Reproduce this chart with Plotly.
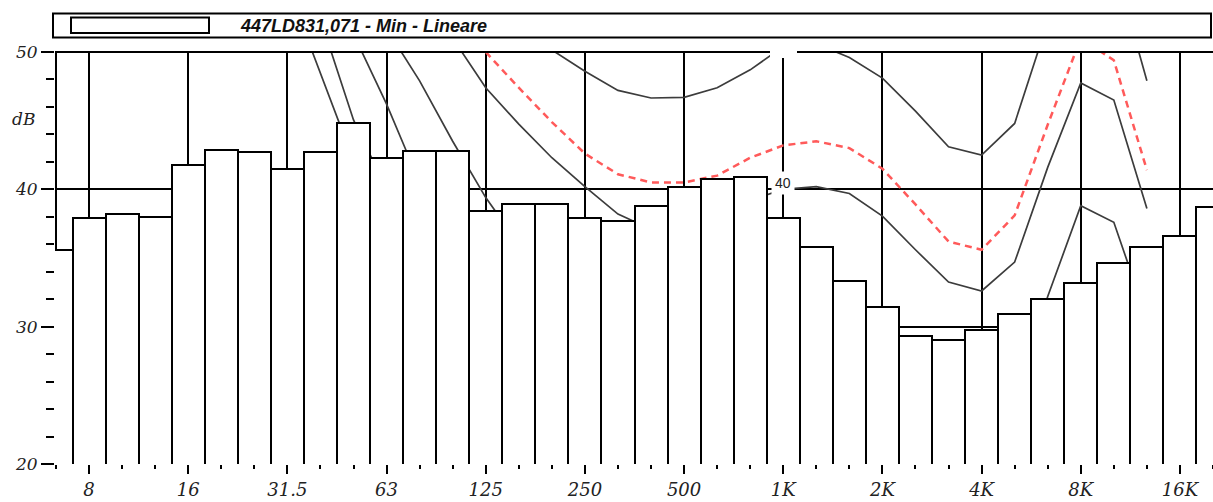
import plotly.graph_objects as go

# 1/3-octave band centres (Hz)
bands = ["6.3", "8", "10", "12.5", "16", "20", "25", "31.5", "40", "50", "63", "80",
         "100", "125", "160", "200", "250", "315", "400", "500", "630", "800", "1K",
         "1.25K", "1.6K", "2K", "2.5K", "3.15K", "4K", "5K", "6.3K", "8K", "10K",
         "12.5K", "16K", "20K"]

# measured spectrum (dB)
spectrum_db = [35.6, 37.9, 38.2, 38.0, 41.8, 42.9, 42.75, 41.5, 42.75, 44.85, 42.25, 42.8,
               42.8, 38.4, 38.9, 38.9, 37.9, 37.7, 38.8, 40.15, 40.75, 40.9, 37.9, 35.8,
               33.3, 31.4, 29.3, 29.0, 29.75, 30.9, 32.0, 33.15, 34.6, 35.8, 36.6, 38.7]

N = None
# reference curves (dB), None where not drawn
curve_1 = [N, N, N, N, N, N, N, 54.8, 48.5, 42.1, 38.5, N, N, N, N, N, N, N, N, N, N, N,
           N, N, N, N, N, N, N, N, N, N, N, N, N, N]
curve_2 = [N, N, N, N, N, N, N, 60.0, 52.4, 45.05, 40.0, N, N, N, N, N, N, N, N, N, N, N,
           N, N, N, N, N, N, N, N, N, N, N, N, N, N]
curve_3 = [N, N, N, N, N, N, N, N, 57.0, 51.3, 46.2, 40.5, 36.0, N, N, N, N, N, N, N, N, N,
           N, N, N, N, N, N, N, N, N, N, N, N, N, N]
curve_30 = [N, N, N, N, N, N, N, N, N, 58.0, 51.7, 47.9, 43.5, 39.4, 36.0, 33.8, 31.5, 29.8,
            28.5, 27.8, 27.8, 28.5, 30.0, 30.2, 29.7, 28.0, 25.6, 23.3, 22.6, 24.7, 32.2,
            38.8, 37.6, 30.6, N, N]
curve_40 = [N, N, N, N, N, N, N, N, N, N, N, 55.5, 51.0, 47.4, 44.75, 42.3, 40.2, 38.2, 37.1,
            37.4, 38.2, 39.2, 40.0, 40.2, 39.7, 38.05, 35.6, 33.25, 32.6, 34.7, 41.6, 47.75,
            46.5, 38.6, N, N]
curve_50 = [N, N, N, N, N, N, N, N, N, N, N, N, N, 57.0, 52.5, 50.15, 48.6, 47.2, 46.65, 46.7,
            47.4, 48.7, 50.4, 50.6, 49.6, 48.1, 45.7, 43.1, 42.5, 44.8, 52.2, 57.7, 56.5, 47.9,
            N, N]
curve_red = [N, N, N, N, N, N, N, N, N, N, N, N, N, 50.0, 47.4, 44.9, 42.6, 41.1, 40.5, 40.5,
             41.0, 42.3, 43.2, 43.5, 43.0, 41.5, 38.9, 36.2, 35.6, 38.1, 44.7, 51.0, 49.4,
             41.4, N, N]

tick_labels = ["8", "16", "31.5", "63", "125", "250", "500", "1K", "2K", "4K", "8K", "16K"]
legend_text = "447LD831,071 - Min - Lineare"
curve_label = "40"

x = list(range(len(bands)))
tick_pos = [bands.index(t) for t in tick_labels]

W, H = 1213, 502
ML, MR, MT, MB = 55, 0, 52, 38
PW, PH = W - ML - MR, H - MT - MB


def px(xp):
    return (xp - ML) / PW


def py(yp):
    return (H - MB - yp) / PH


fig = go.Figure()
for vals in [curve_1, curve_2, curve_3, curve_30, curve_40, curve_50]:
    fig.add_trace(go.Scatter(x=x, y=vals, mode="lines", connectgaps=False,
                             line=dict(color="#3c3c3c", width=1.7),
                             hoverinfo="skip", showlegend=False))
fig.add_trace(go.Scatter(x=x, y=curve_red, mode="lines", connectgaps=False,
                         line=dict(color="#ff5a5a", width=2.5, dash="7px,5px"),
                         hoverinfo="skip", showlegend=False))
fig.add_trace(go.Bar(x=x, y=spectrum_db, width=1.0, xaxis="x2", yaxis="y2",
                     marker=dict(color="white", line=dict(color="black", width=2)),
                     hoverinfo="skip", showlegend=False))

serif = "DejaVu Serif"
xr = [-0.03, 35.0]
yr = [20, 50]

fig.update_layout(
    width=W, height=H,
    margin=dict(l=ML, r=MR, t=MT, b=MB, autoexpand=False),
    paper_bgcolor="white", plot_bgcolor="white",
    bargap=0,
    xaxis=dict(range=xr, tickmode="array", tickvals=tick_pos, ticktext=tick_labels,
               ticks="outside", ticklen=9, tickwidth=1.5, tickcolor="black",
               showgrid=True, gridcolor="black", gridwidth=2,
               showline=False, zeroline=False,
               tickfont=dict(family=serif, size=18, style="italic", color="#222"),
               minor=dict(tickmode="linear", tick0=0, dtick=1, ticks="outside",
                          ticklen=4, tickwidth=1.5, tickcolor="black", showgrid=False)),
    yaxis=dict(range=yr, tickmode="linear", tick0=20, dtick=10,
               ticks="outside", ticklen=13, tickwidth=1.5, tickcolor="black",
               showgrid=True, gridcolor="black", gridwidth=2,
               showline=False, zeroline=False,
               tickfont=dict(family=serif, size=17, style="italic", color="#222"),
               minor=dict(tickmode="linear", tick0=20, dtick=2, ticks="outside",
                          ticklen=8, tickwidth=1.5, tickcolor="black", showgrid=False)),
    xaxis2=dict(range=xr, overlaying="x", visible=False, showgrid=False, zeroline=False),
    yaxis2=dict(range=yr, overlaying="y", visible=False, showgrid=False, zeroline=False),
)

shapes = [
    # left axis line (under bars)
    dict(type="line", xref="paper", yref="paper", x0=px(56), x1=px(56), y0=0, y1=1,
         line=dict(color="black", width=2), layer="below"),
    # top border
    dict(type="line", xref="paper", yref="paper", x0=0, x1=1, y0=1, y1=1,
         line=dict(color="black", width=2), layer="above"),
    # white gap on the top border near 1K
    dict(type="rect", xref="paper", yref="paper", x0=px(770), x1=px(797), y0=py(58), y1=py(47),
         fillcolor="white", line=dict(width=0), layer="above"),
    # legend frame
    dict(type="rect", xref="paper", yref="paper", x0=px(53), x1=px(1211), y0=py(37.5), y1=py(13.5),
         line=dict(color="black", width=2), fillcolor="rgba(0,0,0,0)", layer="above"),
    dict(type="rect", xref="paper", yref="paper", x0=px(71), x1=px(209), y0=py(33), y1=py(17.5),
         line=dict(color="black", width=2), fillcolor="white", layer="above"),
]
fig.update_layout(shapes=shapes)

fig.add_annotation(xref="paper", yref="paper", x=px(238), y=py(25.5), xanchor="left", yanchor="middle",
                   text=legend_text, showarrow=False,
                   font=dict(family="Liberation Sans", size=18, weight="bold", style="italic", color="#111"))
fig.add_annotation(xref="paper", yref="paper", x=px(23), y=py(119), xanchor="center", yanchor="middle",
                   text="dB", showarrow=False,
                   font=dict(family=serif, size=17, style="italic", color="#222"))
i1k = bands.index("1K")
fig.add_annotation(x=i1k, y=curve_40[i1k], xref="x", yref="y", text=curve_label, showarrow=False,
                   yshift=6, bgcolor="white", borderpad=3,
                   font=dict(family="Liberation Sans", size=14, color="#222"))

fig.write_html("out.html", config={"displayModeBar": False},
               post_script="document.body.style.margin='0';document.body.style.overflow='hidden';")
